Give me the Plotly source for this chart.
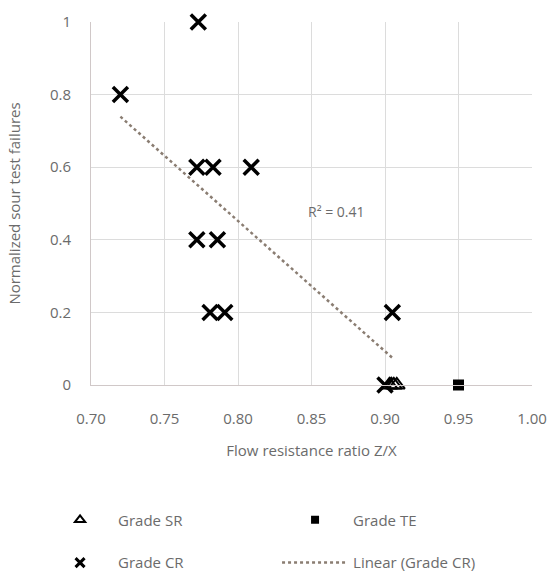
import numpy as np
import plotly.graph_objects as go

# ---- data ----
cr_x = [0.720, 0.773, 0.772, 0.783, 0.809, 0.772, 0.786, 0.781, 0.791, 0.905, 0.900]
cr_y = [0.8, 1.0, 0.6, 0.6, 0.6, 0.4, 0.4, 0.2, 0.2, 0.2, 0.0]
sr_x = [0.903, 0.906, 0.908]
sr_y = [0.0, 0.0, 0.0]
te_x = [0.950]
te_y = [0.0]
x_ticks = [0.70, 0.75, 0.80, 0.85, 0.90, 0.95, 1.00]
y_ticks = [0, 0.2, 0.4, 0.6, 0.8, 1.0]
y_ticktext = ["0", "0.2", "0.4", "0.6", "0.8", "1"]
r2_text = "R² = 0.41"

# linear trend of Grade CR
slope, intercept = np.polyfit(cr_x, cr_y, 1)
fit_x = [min(cr_x), max(cr_x)]
fit_y = [slope * v + intercept for v in fit_x]

TXT = "#6b6b6b"
FONT = "Open Sans"

sr_marker = dict(symbol="triangle-up-open", color="black")
te_marker = dict(symbol="square", color="black")
cr_marker = dict(symbol="x-thin", color="black")
fit_line = dict(color="#8a7d72", width=2.5, dash="dot")

fig = go.Figure()
# plotted marks (legend handled by small proxy entries below)
fig.add_trace(go.Scatter(x=sr_x, y=sr_y, mode="markers", name="Grade SR",
                         marker=dict(size=14, line=dict(width=2, color="black"), **sr_marker),
                         cliponaxis=False, showlegend=False))
fig.add_trace(go.Scatter(x=te_x, y=te_y, mode="markers", name="Grade TE",
                         marker=dict(size=11, **te_marker),
                         cliponaxis=False, showlegend=False))
fig.add_trace(go.Scatter(x=cr_x, y=cr_y, mode="markers", name="Grade CR",
                         marker=dict(size=15, line=dict(width=3.5, color="black"), **cr_marker),
                         cliponaxis=False, showlegend=False))
fig.add_trace(go.Scatter(x=fit_x, y=fit_y, mode="lines", name="Linear (Grade CR)",
                         line=fit_line, showlegend=False))

# legend entries (smaller symbols, as in the reference)
fig.add_trace(go.Scatter(x=[None], y=[None], mode="markers", name="Grade SR",
                         marker=dict(size=9, line=dict(width=2, color="black"), **sr_marker),
                         legend="legend"))
fig.add_trace(go.Scatter(x=[None], y=[None], mode="markers", name="Grade TE",
                         marker=dict(size=8, **te_marker), legend="legend"))
fig.add_trace(go.Scatter(x=[None], y=[None], mode="markers", name="Grade CR",
                         marker=dict(size=9, line=dict(width=3, color="black"), **cr_marker),
                         legend="legend2"))
fig.add_trace(go.Scatter(x=[None], y=[None], mode="lines", name="Linear (Grade CR)",
                         line=fit_line, legend="legend2"))

fig.add_annotation(x=0.867, y=0.477, text=r2_text, showarrow=False,
                   font=dict(family=FONT, size=14, color=TXT))

axis_common = dict(showgrid=True, gridcolor="#dcdcdc", gridwidth=1,
                   zeroline=False, showline=True, linecolor="#d0c8c8", linewidth=1,
                   tickfont=dict(family=FONT, size=15, color=TXT),
                   ticks="outside", tickcolor="rgba(0,0,0,0)")

fig.update_xaxes(range=[0.70, 1.00], tickvals=x_ticks, tickformat=".2f", ticklen=20,
                 title=dict(text="Flow resistance ratio Z/X",
                            font=dict(family=FONT, size=15, color=TXT), standoff=18),
                 **axis_common)
fig.update_yaxes(range=[0, 1.0], tickvals=y_ticks, ticktext=y_ticktext, ticklen=16,
                 title=dict(text="Normalized sour test failures",
                            font=dict(family=FONT, size=15, color=TXT), standoff=25),
                 **axis_common)

leg_common = dict(orientation="h", entrywidth=154, entrywidthmode="pixels",
                  itemwidth=66, xanchor="left", yanchor="middle",
                  font=dict(family=FONT, size=15, color=TXT),
                  bgcolor="rgba(0,0,0,0)")
fig.update_layout(
    width=549, height=574,
    margin=dict(l=91, r=17, t=22, b=189, autoexpand=False),
    paper_bgcolor="white", plot_bgcolor="white",
    showlegend=True,
    legend=dict(x=-0.111, y=-0.372, **leg_common),
    legend2=dict(x=-0.111, y=-0.490, **leg_common),
)

fig.write_html("out.html")
